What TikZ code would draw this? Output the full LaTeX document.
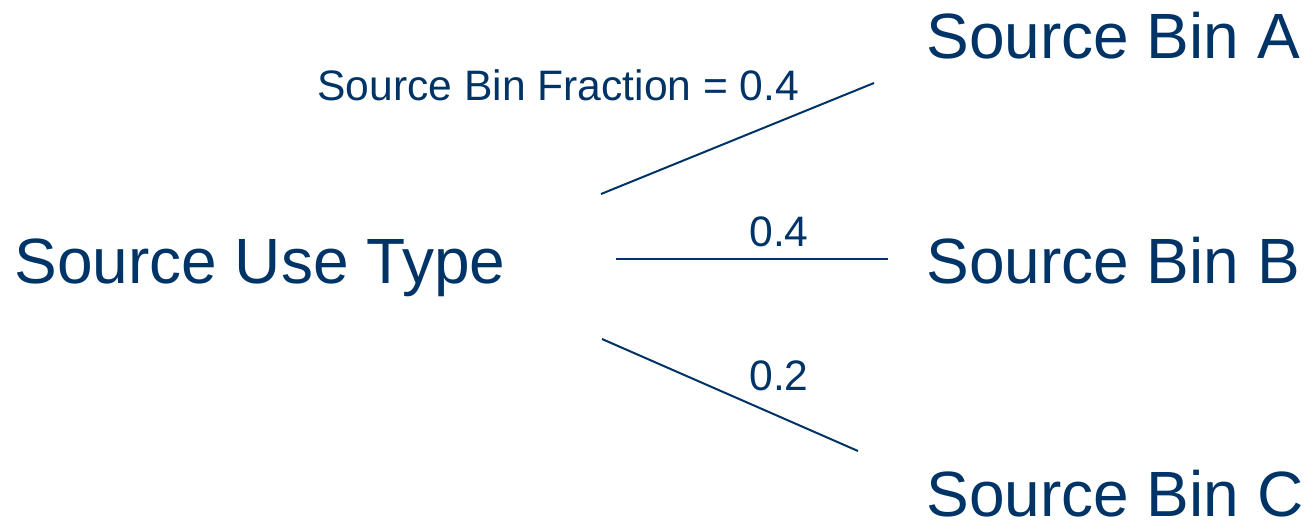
\documentclass[tikz,border=0pt]{standalone}
\usepackage{fontspec}
\setmainfont{Liberation Sans}
\definecolor{navy}{RGB}{0,51,102}

\begin{document}
\begin{tikzpicture}[
    x=0.5pt, y=-0.5pt,
    big label/.style={anchor=base west, inner sep=0pt, text=navy, font=\fontsize{32}{38}\selectfont},
    frac label/.style={anchor=base west, inner sep=0pt, text=navy, font=\fontsize{21.3}{26}\selectfont},
    branch/.style={draw=navy, line width=1pt}
]
\useasboundingbox (0,0) rectangle (1307,527);

% Use type and its bins
\node[big label] (use) at (14, 283) {Source Use Type};
\node[big label] (binA) at (926, 58) {Source Bin A};
\node[big label] (binB) at (926, 283) {Source Bin B};
\node[big label] (binC) at (926, 516) {Source Bin C};

% Branch ends
\coordinate (a0) at (601, 194);
\coordinate (a1) at (874, 83);
\coordinate (b0) at (616, 259);
\coordinate (b1) at (888, 259);
\coordinate (c0) at (602, 339);
\coordinate (c1) at (858, 451);

% Branches
\draw[branch] (a0) -- (a1);
\draw[branch] (b0) -- (b1);
\draw[branch] (c0) -- (c1);

% Fractions
\node[frac label] (fracA) at (317, 100) {Source Bin Fraction = 0.4};
\node[frac label] (fracB) at (749, 246) {0.4};
\node[frac label] (fracC) at (749, 390) {0.2};

\end{tikzpicture}
\end{document}
